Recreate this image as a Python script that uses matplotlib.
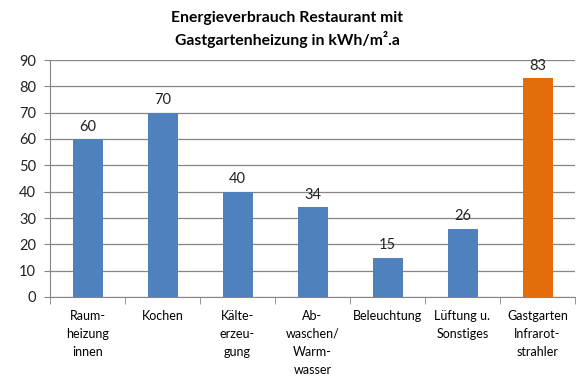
import matplotlib.pyplot as plt
import numpy as np

plt.rcParams['font.family'] = ['Lato', 'DejaVu Sans']

categories = ["Raum-\nheizung\ninnen", "Kochen", "Kälte-\nerzeu-\ngung",
              "Ab-\nwaschen/\nWarm-\nwasser", "Beleuchtung", "Lüftung u.\nSonstiges",
              "Gastgarten\nInfrarot-\nstrahler"]
values = [60, 70, 40, 34, 15, 26, 83]
colors = ["#4F81BD"] * 6 + ["#E46C0A"]

fig = plt.figure(figsize=(5.8, 3.81), dpi=100)
ax = fig.add_axes([50 / 580, 1 - 297 / 381, 525 / 580, 237 / 381])

x = np.arange(len(values))
bars = ax.bar(x, values, width=0.4, color=colors, zorder=3)
for xi, v in zip(x, values):
    ax.text(xi, v + 2, str(v), ha="center", va="bottom", fontsize=10.5, color="#222222")

ax.set_xlim(-0.5, len(values) - 0.5)
ax.set_ylim(0, 90)
ax.set_yticks(range(0, 91, 10))
ax.tick_params(axis="y", labelsize=10.5, length=4, color="#868686", colors="#222222", pad=6)
ax.set_xticks(x)
ax.set_xticklabels(categories, fontsize=9, linespacing=1.6)
ax.tick_params(axis="x", length=0, pad=9)
ax.set_xticks(np.arange(-0.5, len(values)), minor=True)
ax.tick_params(axis="x", which="minor", length=5, color="#868686")
ax.grid(axis="y", color="#868686", linewidth=0.9, zorder=0)
for s in ["top", "right"]:
    ax.spines[s].set_visible(False)
ax.spines["left"].set_color("#868686")
ax.spines["bottom"].set_color("#868686")

fig.text(287 / 580, 0.97, "Energieverbrauch Restaurant mit\nGastgartenheizung in kWh/m².a",
         ha="center", va="top", fontsize=11.3, fontweight="bold", linespacing=1.4)

fig.savefig("out.png", dpi=100)
